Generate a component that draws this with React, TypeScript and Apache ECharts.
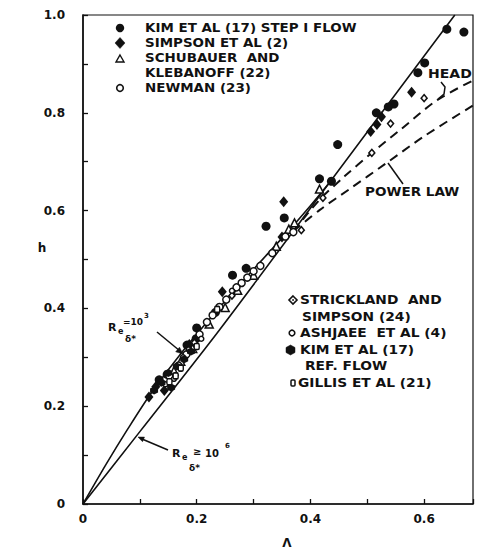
import React, { useEffect, useRef } from "react";
import * as echarts from "echarts";

// ---- data (Λ, h) ----
const kimStep: number[][] = [
  [0.640, 0.971], [0.670, 0.965], [0.601, 0.902], [0.589, 0.882], [0.547, 0.818],
  [0.537, 0.812], [0.516, 0.800], [0.448, 0.735], [0.416, 0.665], [0.437, 0.660],
  [0.354, 0.585], [0.322, 0.568], [0.287, 0.482], [0.263, 0.468], [0.233, 0.392],
  [0.200, 0.360], [0.199, 0.338], [0.183, 0.325], [0.148, 0.265], [0.134, 0.254],
];
const simpson: number[][] = [
  [0.578, 0.842], [0.525, 0.792], [0.517, 0.776], [0.506, 0.762], [0.353, 0.618],
  [0.350, 0.546], [0.245, 0.434], [0.187, 0.326], [0.116, 0.219], [0.143, 0.232], [0.128, 0.240],
];
const schubauer: number[][] = [
  [0.416, 0.644], [0.372, 0.575], [0.362, 0.562], [0.340, 0.527], [0.300, 0.468],
  [0.272, 0.437], [0.250, 0.402], [0.222, 0.368], [0.193, 0.318], [0.172, 0.292], [0.160, 0.272],
];
const newman: number[][] = [
  [0.370, 0.556], [0.356, 0.547], [0.333, 0.513], [0.312, 0.487], [0.300, 0.476],
  [0.289, 0.463], [0.279, 0.452], [0.270, 0.443], [0.252, 0.418], [0.240, 0.403],
  [0.228, 0.386], [0.218, 0.372], [0.205, 0.347], [0.182, 0.306], [0.168, 0.283], [0.152, 0.262],
];
const strickland: number[][] = [
  [0.600, 0.830], [0.541, 0.778], [0.508, 0.718], [0.422, 0.626], [0.384, 0.560],
  [0.262, 0.426], [0.196, 0.330],
];
const ashjaee: number[][] = [
  [0.176, 0.300], [0.186, 0.316], [0.208, 0.338], [0.262, 0.436], [0.160, 0.256], [0.145, 0.245],
];
const kimRef: number[][] = [
  [0.125, 0.232], [0.138, 0.248], [0.155, 0.238], [0.165, 0.281], [0.178, 0.296],
  [0.190, 0.312], [0.150, 0.268],
];
const gillis: number[][] = [
  [0.152, 0.250], [0.163, 0.262], [0.172, 0.278], [0.200, 0.322], [0.236, 0.398],
];

// curves
const curveRe1e3: number[][] = [
  [0, 0], [0.04, 0.08], [0.078, 0.152], [0.12, 0.227], [0.173, 0.309], [0.25, 0.415],
  [0.30, 0.48], [0.358, 0.554], [0.40, 0.61], [0.434, 0.658],
];
const curveRe1e6: number[][] = [
  [0, 0], [0.1, 0.148], [0.24, 0.356], [0.434, 0.658], [0.654, 1.0],
];
const curveHead: number[][] = [
  [0.37, 0.558], [0.416, 0.622], [0.46, 0.67], [0.508, 0.718], [0.56, 0.767], [0.623, 0.826], [0.686, 0.866],
];
const curvePowerLaw: number[][] = [
  [0.37, 0.558], [0.416, 0.601], [0.47, 0.645], [0.531, 0.695], [0.60, 0.752], [0.686, 0.815],
];

const xTickLabels = ["0", "0.2", "0.4", "0.6"];
const yTickLabels = ["0", "0.2", "0.4", "0.6", "0.8", "1.0"];

const legendUpper = [
  "KIM ET AL (17) STEP I FLOW",
  "SIMPSON ET AL (2)",
  "SCHUBAUER  AND",
  "KLEBANOFF (22)",
  "NEWMAN (23)",
];
const legendLower = [
  "STRICKLAND  AND",
  "SIMPSON (24)",
  "ASHJAEE  ET AL (4)",
  "KIM ET AL (17)",
  "REF. FLOW",
  "GILLIS ET AL (21)",
];

const FONT = '"DejaVu Sans", "Liberation Sans", sans-serif';
const INK = "#111";
const HEX = "path://M0,-10 L8.66,-5 L8.66,5 L0,10 L-8.66,5 L-8.66,-5 Z";

function txt(text: string, x: number, y: number, size: number, scaleX = 1, align = "left") {
  return {
    type: "text",
    x,
    y,
    scaleX,
    z: 100,
    style: {
      text,
      fill: INK,
      font: `bold ${size}px ${FONT}`,
      textAlign: align,
      textVerticalAlign: "middle",
      verticalAlign: "middle",
    },
  };
}

function poly(points: number[][], fill: string, stroke = INK, lw = 1.4) {
  return { type: "polygon", z: 100, shape: { points }, style: { fill, stroke, lineWidth: lw } };
}

function fmtTick(labels: string[]) {
  return (v: number) => {
    const r = Math.round(v * 10);
    if (Math.abs(v * 10 - r) > 1e-6 || r % 2 !== 0) return "";
    return labels[r / 2] ?? "";
  };
}

export default function App() {
  const ref = useRef<HTMLDivElement>(null);
  useEffect(() => {
    document.body.style.margin = "0";
    if (!ref.current) return;
    const chart = echarts.init(ref.current, null, { renderer: "svg" });

    const lineSeries = (name: string, data: number[][], dashed = false) => ({
      name,
      type: "line",
      data,
      smooth: 0.3,
      showSymbol: false,
      symbol: "none",
      z: 2,
      lineStyle: { color: INK, width: dashed ? 2 : 1.6, type: dashed ? [9, 6] : "solid" },
    });
    const scatter = (name: string, data: number[][], symbol: string, size: any, open: boolean) => ({
      name,
      type: "scatter",
      data,
      symbol,
      symbolSize: size,
      z: 5,
      itemStyle: open
        ? { color: "#fff", borderColor: INK, borderWidth: 1.5, opacity: 1 }
        : { color: INK, opacity: 1 },
    });

    const u = 1.12;
    const l = 1.15;
    const graphics: any[] = [
      // upper legend markers
      { type: "circle", z: 100, shape: { cx: 120, cy: 28, r: 4.2 }, style: { fill: INK } },
      poly([[120, 37.5], [125, 43], [120, 48.5], [115, 43]], INK, INK, 0.5),
      poly([[120, 55], [124, 62], [116, 62]], "#fff"),
      { type: "circle", z: 100, shape: { cx: 120, cy: 88, r: 3.3 }, style: { fill: "#fff", stroke: INK, lineWidth: 1.6 } },
      txt(legendUpper[0], 145, 28, 12, u),
      txt(legendUpper[1], 145, 43, 12, u),
      txt(legendUpper[2], 145, 58, 12, u),
      txt(legendUpper[3], 145, 73, 12, u),
      txt(legendUpper[4], 145, 88, 12, u),
      // lower legend markers
      poly([[293, 296], [297, 300], [293, 304], [289, 300]], "#fff", INK, 1.6),
      { type: "circle", z: 100, shape: { cx: 293, cy: 300, r: 0.9 }, style: { fill: INK } },
      { type: "circle", z: 100, shape: { cx: 292, cy: 333, r: 2.8 }, style: { fill: "#fff", stroke: INK, lineWidth: 1.6 } },
      poly([[290.5, 345], [295, 347.5], [295, 352.5], [290.5, 355], [286, 352.5], [286, 347.5]], INK, INK, 0.5),
      { type: "rect", z: 100, shape: { x: 291, y: 380, width: 4, height: 6, r: 1 }, style: { fill: "#fff", stroke: INK, lineWidth: 1.5 } },
      txt(legendLower[0], 300, 300, 12, l),
      txt(legendLower[1], 302, 317, 12, l),
      txt(legendLower[2], 300, 333, 12, l),
      txt(legendLower[3], 300, 350, 12, l),
      txt(legendLower[4], 305, 366, 12, l),
      txt(legendLower[5], 298, 383, 12, l),
      // axis names
      txt("h", 42, 248, 12, 1, "center"),
      txt("Λ", 287, 543, 12, 1, "center"),
      // HEAD label + brace
      txt("HEAD", 428, 74, 12, 1.17),
      { type: "polyline", z: 100, shape: { points: [[441, 82], [445, 87], [444, 94], [438, 99]] }, style: { stroke: INK, lineWidth: 1.5, fill: null } },
      // POWER LAW label + pointer
      txt("POWER LAW", 365, 192, 12, 1.13),
      { type: "line", z: 100, shape: { x1: 388, y1: 163, x2: 403, y2: 184 }, style: { stroke: INK, lineWidth: 1.5 } },
      // R_e delta* = 10^3
      txt("R", 108, 327, 11),
      txt("e", 118, 331, 8),
      txt("δ*", 125, 339, 9),
      txt("=10", 123, 322, 9),
      txt("3", 144, 316, 7),
      { type: "line", z: 100, shape: { x1: 157, y1: 332, x2: 180, y2: 351 }, style: { stroke: INK, lineWidth: 1.5 } },
      poly([[183, 354], [175.7, 351.8], [179.5, 347.2]], INK, INK, 0.5),
      // R_e delta* >= 10^6
      txt("R", 172, 453, 11),
      txt("e", 182, 457, 8),
      txt("δ*", 189, 468, 9),
      txt("≥", 193, 451, 10),
      txt("10", 205, 453, 10),
      txt("6", 225, 446, 7),
      { type: "line", z: 100, shape: { x1: 168, y1: 450, x2: 142, y2: 439 }, style: { stroke: INK, lineWidth: 1.5 } },
      poly([[138, 437], [144.5, 437.1], [142.5, 441.7]], INK, INK, 0.5),
    ];

    chart.setOption({
      animation: false,
      backgroundColor: "#fff",
      grid: {
        left: 83,
        right: 6,
        top: 15,
        bottom: 46,
        show: true,
        borderColor: INK,
        borderWidth: 1.2,
        backgroundColor: "transparent",
      },
      xAxis: {
        type: "value",
        min: 0,
        max: 0.686,
        interval: 0.1,
        axisLine: { lineStyle: { color: INK, width: 1.6 } },
        axisTick: { inside: true, length: 5, lineStyle: { color: INK, width: 1.3 } },
        splitLine: { show: false },
        axisLabel: {
          margin: 9,
          color: INK,
          fontFamily: FONT,
          fontWeight: "bold",
          fontSize: 12,
          formatter: fmtTick(xTickLabels),
        },
      },
      yAxis: {
        type: "value",
        min: 0,
        max: 1,
        interval: 0.1,
        axisLine: { lineStyle: { color: INK, width: 1.6 } },
        axisTick: { inside: true, length: 5, lineStyle: { color: INK, width: 1.3 } },
        splitLine: { show: false },
        axisLabel: {
          margin: 18,
          color: INK,
          fontFamily: FONT,
          fontWeight: "bold",
          fontSize: 12,
          formatter: fmtTick(yTickLabels),
        },
      },
      series: [
        lineSeries("Re 10^3", curveRe1e3),
        lineSeries("Re 10^6", curveRe1e6),
        lineSeries("HEAD", curveHead, true),
        lineSeries("POWER LAW", curvePowerLaw, true),
        scatter("KIM ET AL (17) STEP I FLOW", kimStep, "circle", 9, false),
        scatter("SIMPSON ET AL (2)", simpson, "diamond", [9, 11], false),
        scatter("SCHUBAUER AND KLEBANOFF (22)", schubauer, "triangle", 8, true),
        scatter("NEWMAN (23)", newman, "circle", 7, true),
        scatter("STRICKLAND AND SIMPSON (24)", strickland, "diamond", [6, 7], true),
        scatter("ASHJAEE ET AL (4)", ashjaee, "circle", 5, true),
        scatter("KIM ET AL (17) REF. FLOW", kimRef, HEX, 8, false),
        scatter("GILLIS ET AL (21)", gillis, "roundRect", [5, 6], true),
      ],
      graphic: graphics,
    });
    return () => chart.dispose();
  }, []);
  return <div ref={ref} style={{ width: 479, height: 550 }} />;
}
